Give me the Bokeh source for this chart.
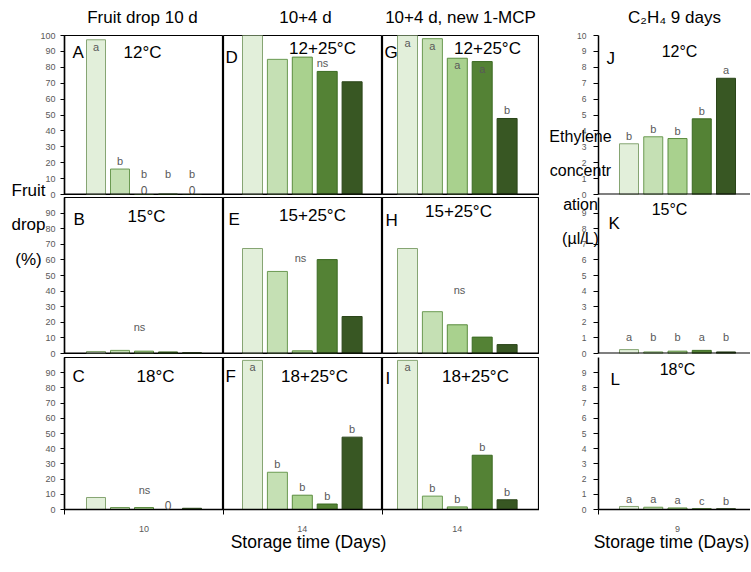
from bokeh.plotting import figure
from bokeh.models import Range1d, LinearAxis, FixedTicker, Span, Label, ColumnDataSource, GridBox
from bokeh.embed import file_html
from bokeh.resources import INLINE

FONT = "Liberation Sans"

# ---------------- data ----------------
treatments = [1, 2, 3, 4, 5]

# Fruit drop (%) after 10 d storage
drop_10d_12C = [97.3, 16.0, 0.0, 0.3, 0.0]
drop_10d_15C = [1.3, 2.0, 1.5, 1.0, 0.5]
drop_10d_18C = [7.9, 1.3, 1.3, 0.0, 0.8]
# Fruit drop (%) after 10 + 4 d
drop_14d_12C = [100.0, 85.0, 86.4, 77.4, 70.9]
drop_14d_15C = [67.3, 52.6, 1.7, 60.2, 23.7]
drop_14d_18C = [98.1, 24.5, 9.4, 3.6, 47.6]
# Fruit drop (%) after 10 + 4 d, new 1-MCP
drop_mcp_12C = [100.0, 98.0, 85.7, 83.6, 47.8]
drop_mcp_15C = [67.3, 26.8, 18.4, 10.5, 5.7]
drop_mcp_18C = [98.1, 8.8, 1.7, 35.7, 6.4]
# Ethylene concentration (ul/L) after 9 days
eth_12C = [3.19, 3.63, 3.52, 4.76, 7.31]
eth_15C = [0.25, 0.10, 0.15, 0.20, 0.10]
eth_18C = [0.20, 0.15, 0.10, 0.05, 0.05]

# significance letters
sig_10d_12C = ["a", "b", "b", "b", "b"]
sig_14d_18C = ["a", "b", "b", "b", "b"]
sig_mcp_12C = ["a", "a", "a", "a", "b"]
sig_mcp_18C = ["a", "b", "b", "b", "b"]
sig_eth_12C = ["b", "b", "b", "b", "a"]
sig_eth_15C = ["a", "b", "b", "a", "b"]
sig_eth_18C = ["a", "a", "a", "c", "b"]
zero_10d_12C = ["", "", "0", "", "0"]
zero_10d_18C = ["", "", "", "0", ""]

pct_ticks_top = [0, 10, 20, 30, 40, 50, 60, 70, 80, 90, 100]
pct_ticks = [0, 10, 20, 30, 40, 50, 60, 70, 80, 90]
eth_ticks_top = [0, 1, 2, 3, 4, 5, 6, 7, 8, 9, 10]
eth_ticks = [0, 1, 2, 3, 4, 5, 6, 7, 8, 9]

day_labels = ["10", "14", "14", "9"]
column_titles = ["Fruit drop 10 d", "10+4 d", "10+4 d, new 1-MCP", "C\u2082H\u2084 9 days"]
drop_axis_title = ["Fruit", "drop", "(%)"]
eth_axis_title = ["Ethylene", "concentr", "ation", "(\u00b5l/L)"]
x_axis_title = "Storage time (Days)"
panel_ids = [["A", "D", "G", "J"], ["B", "E", "H", "K"], ["C", "F", "I", "L"]]
temps = [["12°C", "12+25°C", "12+25°C", "12°C"],
         ["15°C", "15+25°C", "15+25°C", "15°C"],
         ["18°C", "18+25°C", "18+25°C", "18°C"]]

BAR_FILL = ["#e2efda", "#c5e0b4", "#a9d18e", "#548235", "#385723"]
BAR_LINE = ["#86a573", "#6b9a52", "#5a8c3e", "#3b6a22", "#2a4519"]

# ---------------- layout geometry (page pixels) ----------------
TOTAL_W, TOTAL_H = 750, 557
COL_FIG_LEFT = [0, 223, 382, 539]
COL_FIG_W = [223, 159, 157, 211]
COL_FRAME_LEFT = [64, 223, 382, 598]
COL_FRAME_W = [159, 159, 157, 152]
# each row's canvas reaches a few px under the next row, so boundary tick labels are whole
ROW_FIG_TOP = [0, 194, 353]
ROW_FIG_H = [200, 164, 204]
ROW_MARGIN_TOP = [0, -3, -4]
ROW_FRAME_TOP = [35, 194, 353]
ROW_FRAME_H = [159, 159, 156]
BAR_FIRST = [31.5, 29.0, 25.0, 30.5]
BAR_PITCH = [24.0, 24.9, 24.9, 24.25]
BAR_W = [19, 20, 20, 19]

ID_POS = {(0, 0): (72, 52), (0, 1): (225, 57), (0, 2): (384, 52), (0, 3): (606, 58),
          (1, 0): (73, 216), (1, 1): (228, 216), (1, 2): (385, 217), (1, 3): (608, 220),
          (2, 0): (72, 372), (2, 1): (225, 372), (2, 2): (385, 375), (2, 3): (610, 376)}
TEMP_POS = {(0, 0): (142, 52), (0, 1): (322, 48), (0, 2): (487, 48), (0, 3): (679, 51),
            (1, 0): (146, 213), (1, 1): (312, 212), (1, 2): (458, 208), (1, 3): (669, 206),
            (2, 0): (155, 372), (2, 1): (314, 372), (2, 2): (475, 372), (2, 3): (677, 365)}
NS_POS = {(0, 1): (322, 62), (1, 0): (139, 326), (1, 1): (300, 256), (1, 2): (459, 288),
          (2, 0): (144, 489)}
LETTER_FLOOR_PX = {(0, 0): 12.5, (1, 3): 8.5}

DATA = {
    (0, 0): (drop_10d_12C, sig_10d_12C, zero_10d_12C),
    (1, 0): (drop_10d_15C, None, None),
    (2, 0): (drop_10d_18C, None, zero_10d_18C),
    (0, 1): (drop_14d_12C, None, None),
    (1, 1): (drop_14d_15C, None, None),
    (2, 1): (drop_14d_18C, sig_14d_18C, None),
    (0, 2): (drop_mcp_12C, sig_mcp_12C, None),
    (1, 2): (drop_mcp_15C, None, None),
    (2, 2): (drop_mcp_18C, sig_mcp_18C, None),
    (0, 3): (eth_12C, sig_eth_12C, None),
    (1, 3): (eth_15C, sig_eth_15C, None),
    (2, 3): (eth_18C, sig_eth_18C, None),
}


def make_panel(r, c):
    vals, sig, zeros = DATA[(r, c)]
    fl, fw = COL_FRAME_LEFT[c], COL_FRAME_W[c]
    ft, fh = ROW_FRAME_TOP[r], ROW_FRAME_H[r]
    ymax = 10 if c == 3 else 100
    xs = 1 - BAR_FIRST[c] / BAR_PITCH[c]
    xe = xs + fw / BAR_PITCH[c]

    p = figure(width=COL_FIG_W[c], height=ROW_FIG_H[r],
               x_range=Range1d(xs, xe), y_range=Range1d(0, ymax),
               min_border_left=fl - COL_FIG_LEFT[c],
               min_border_right=COL_FIG_LEFT[c] + COL_FIG_W[c] - fl - fw,
               min_border_top=ft - ROW_FIG_TOP[r],
               min_border_bottom=ROW_FIG_TOP[r] + ROW_FIG_H[r] - ft - fh,
               x_axis_location=None, y_axis_location=None,
               toolbar_location=None, output_backend="svg", title=None)
    if ROW_MARGIN_TOP[r]:
        p.margin = (ROW_MARGIN_TOP[r], 0, 0, 0)
    p.grid.visible = False
    p.background_fill_color = None
    p.border_fill_color = None
    if c == 3:
        p.outline_line_color = None
    else:
        p.outline_line_color = "black"
        p.outline_line_width = 1.2

    def X(px):
        return xs + (px - fl) / BAR_PITCH[c]

    def Y(py):
        return ymax * (ft + fh - py) / fh

    unit = ymax / fh  # data units per pixel

    src = ColumnDataSource(dict(x=treatments, top=vals, fill=BAR_FILL, line=BAR_LINE))
    p.vbar(x="x", top="top", bottom=0, width=BAR_W[c] / BAR_PITCH[c], source=src,
           fill_color="fill", line_color="line", line_width=1)

    def lab(x, y, text, size, color="black", align="center", baseline="middle"):
        p.add_layout(Label(x=x, y=y, text=text, text_font=FONT, text_font_size=size,
                           text_color=color, text_align=align, text_baseline=baseline))

    if sig is not None:
        floor = LETTER_FLOOR_PX.get((r, c), 0) * unit
        for t, v, s in zip(treatments, vals, sig):
            if v / ymax > 0.8:
                lab(t, v - 1 * unit, s, "11px", "#595959", baseline="top")
            else:
                lab(t, max(v, floor) + 2 * unit, s, "11px", "#595959", baseline="bottom")
    if zeros is not None:
        for t, z in zip(treatments, zeros):
            if z:
                lab(t, 4.5 * unit, z, "12px", "#595959")
    if (r, c) in NS_POS:
        nx, ny = NS_POS[(r, c)]
        lab(X(nx), Y(ny), "ns", "11px", "#595959")

    ix, iy = ID_POS[(r, c)]
    lab(X(ix), Y(iy), panel_ids[r][c], "17px", align="left")
    tx, ty = TEMP_POS[(r, c)]
    lab(X(tx), Y(ty), temps[r][c], "16px" if c == 3 else "17px")

    if c in (0, 3):
        ticks = (pct_ticks_top if r == 0 else pct_ticks) if c == 0 else (eth_ticks_top if r == 0 else eth_ticks)
        ax = LinearAxis(ticker=FixedTicker(ticks=ticks),
                        major_label_text_font=FONT,
                        major_label_text_font_size="9px" if c == 0 else "8.5px",
                        major_label_text_color="#595959",
                        major_tick_in=0, major_tick_out=4 if c == 0 else 5,
                        minor_tick_in=0, minor_tick_out=0,
                        major_tick_line_color="black",
                        axis_line_color="black", axis_line_width=1.5,
                        major_label_standoff=5 if c == 0 else 7)
        p.add_layout(ax, "left")

    if r == 2:
        xa = LinearAxis(ticker=FixedTicker(ticks=[3], minor_ticks=[xs, xe]),
                        major_label_overrides={3: day_labels[c]},
                        major_label_text_font=FONT, major_label_text_font_size="9px",
                        major_label_text_color="#595959",
                        major_tick_in=0, major_tick_out=0,
                        minor_tick_in=0, minor_tick_out=5, minor_tick_line_color="black",
                        axis_line_color="black", axis_line_width=1.5,
                        major_label_standoff=11)
        p.add_layout(xa, "below")
    else:
        p.add_layout(Span(location=0, dimension="width", line_color="black", line_width=2))
    return p


# transparent overlay (page-pixel coordinates) for the texts that sit outside the panels
ov = figure(width=TOTAL_W, height=TOTAL_H, x_range=Range1d(0, TOTAL_W), y_range=Range1d(TOTAL_H, 0),
            min_border=0, x_axis_location=None, y_axis_location=None,
            toolbar_location=None, output_backend="svg", title=None)
ov.grid.visible = False
ov.outline_line_color = None
ov.background_fill_color = None
ov.border_fill_color = None


def olab(x, y, text, size, align="center", baseline="middle"):
    ov.add_layout(Label(x=x, y=y, text=text, text_font=FONT, text_font_size=size,
                        text_color="black", text_align=align, text_baseline=baseline))


for c, tx in enumerate([142, 305, 460, 674]):
    olab(tx, 17, column_titles[c], "17px")
for t, yc in zip(drop_axis_title, [190, 224, 259]):
    olab(28, yc, t, "17px")
for t, yc in zip(eth_axis_title, [136, 170, 204, 238]):
    olab(580, yc, t, "16px")
olab(308, 541, x_axis_title, "17.5px")
olab(671, 541, x_axis_title, "17.5px")

# panels sit in the inner cells; the overlay spans an extra empty ring of cells
children = []
for r in range(3):
    for c in range(4):
        children.append((make_panel(r, c), r + 1, c + 1))
children.append((ov, 0, 0, 5, 6))
grid = GridBox(children=children, spacing=0)

open("out.html", "w").write(file_html(grid, INLINE))
